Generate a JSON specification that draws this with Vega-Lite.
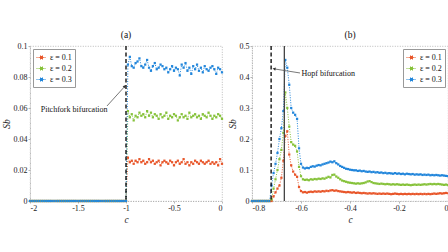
{
"$schema": "https://vega.github.io/schema/vega-lite/v6.json",
"padding": {"left": 0, "top": 29, "right": 0, "bottom": 5},
"spacing": 30,
"bounds": "flush",
"config": {
  "view": {"stroke": "#aaa", "strokeDash": [1, 1.5], "strokeWidth": 0.8},
  "font": "Liberation Serif",
  "title": {"font": "Liberation Serif", "fontSize": 9.5, "fontWeight": "normal", "offset": 3, "color": "#111"},
  "axis": {"grid": false, "labelOverlap": false, "labelFont": "Liberation Serif", "labelFontSize": 8, "labelColor": "#222", "domainColor": "#aaa", "domainDash": [1, 1.5], "domainWidth": 0.8, "tickColor": "#999", "tickSize": 2, "tickWidth": 0.7, "labelPadding": 1, "titlePadding": 2, "titleFont": "Liberation Serif", "titleFontSize": 9.5, "titleFontStyle": "italic", "titleFontWeight": "normal", "titleColor": "#222"},
  "axisY": {"labelOverlap": false},
  "axisQuantitative": {"labelOverlap": false},
  "legend": {"title": null, "labelFont": "Liberation Serif", "labelFontSize": 8, "labelColor": "#111", "fillColor": "white", "strokeColor": "#999", "padding": 3, "rowPadding": 1, "offset": 3, "symbolType": "M-1,0H1M-0.3,-0.3H0.3V0.3H-0.3Z", "symbolSize": 100, "symbolStrokeWidth": 1, "symbolDash": [1, 1], "labelOffset": 3}
},
"datasets": {
"A": [
{"c":-2,"r":0,"g":0,"b":0},{"c":-1.98,"r":0,"g":0,"b":0},{"c":-1.96,"r":0,"g":0,"b":0},{"c":-1.94,"r":0,"g":0,"b":0},{"c":-1.92,"r":0,"g":0,"b":0},{"c":-1.9,"r":0,"g":0,"b":0},{"c":-1.88,"r":0,"g":0,"b":0},{"c":-1.86,"r":0,"g":0,"b":0},{"c":-1.84,"r":0,"g":0,"b":0},{"c":-1.82,"r":0,"g":0,"b":0},
{"c":-1.8,"r":0,"g":0,"b":0},{"c":-1.78,"r":0,"g":0,"b":0},{"c":-1.76,"r":0,"g":0,"b":0},{"c":-1.74,"r":0,"g":0,"b":0},{"c":-1.72,"r":0,"g":0,"b":0},{"c":-1.7,"r":0,"g":0,"b":0},{"c":-1.68,"r":0,"g":0,"b":0},{"c":-1.66,"r":0,"g":0,"b":0},{"c":-1.64,"r":0,"g":0,"b":0},{"c":-1.62,"r":0,"g":0,"b":0},
{"c":-1.6,"r":0,"g":0,"b":0},{"c":-1.58,"r":0,"g":0,"b":0},{"c":-1.56,"r":0,"g":0,"b":0},{"c":-1.54,"r":0,"g":0,"b":0},{"c":-1.52,"r":0,"g":0,"b":0},{"c":-1.5,"r":0,"g":0,"b":0},{"c":-1.48,"r":0,"g":0,"b":0},{"c":-1.46,"r":0,"g":0,"b":0},{"c":-1.44,"r":0,"g":0,"b":0},{"c":-1.42,"r":0,"g":0,"b":0},
{"c":-1.4,"r":0,"g":0,"b":0},{"c":-1.38,"r":0,"g":0,"b":0},{"c":-1.36,"r":0,"g":0,"b":0},{"c":-1.34,"r":0,"g":0,"b":0},{"c":-1.32,"r":0,"g":0,"b":0},{"c":-1.3,"r":0,"g":0,"b":0},{"c":-1.28,"r":0,"g":0,"b":0},{"c":-1.26,"r":0,"g":0,"b":0},{"c":-1.24,"r":0,"g":0,"b":0},{"c":-1.22,"r":0,"g":0,"b":0},
{"c":-1.2,"r":0,"g":0,"b":0},{"c":-1.18,"r":0,"g":0,"b":0},{"c":-1.16,"r":0,"g":0,"b":0},{"c":-1.14,"r":0,"g":0,"b":0},{"c":-1.12,"r":0,"g":0,"b":0},{"c":-1.1,"r":0,"g":0,"b":0},{"c":-1.08,"r":0,"g":0,"b":0},{"c":-1.06,"r":0,"g":0,"b":0},{"c":-1.04,"r":0,"g":0,"b":0},{"c":-1.02,"r":0,"g":0,"b":0},
{"c":-1,"r":0,"g":0,"b":0},
{"c":-0.98,"r":0.028,"g":0.058,"b":0.088},{"c":-0.96,"r":0.025,"g":0.054,"b":0.093},{"c":-0.94,"r":0.026,"g":0.056,"b":0.087},{"c":-0.92,"r":0.024,"g":0.052,"b":0.086},{"c":-0.9,"r":0.026,"g":0.055,"b":0.089},
{"c":-0.88,"r":0.025,"g":0.054,"b":0.090},{"c":-0.86,"r":0.027,"g":0.057,"b":0.092},{"c":-0.84,"r":0.025,"g":0.055,"b":0.087},{"c":-0.82,"r":0.026,"g":0.056,"b":0.086},{"c":-0.8,"r":0.024,"g":0.054,"b":0.088},
{"c":-0.78,"r":0.025,"g":0.058,"b":0.091},{"c":-0.76,"r":0.027,"g":0.055,"b":0.086},{"c":-0.74,"r":0.025,"g":0.057,"b":0.084},{"c":-0.72,"r":0.026,"g":0.054,"b":0.087},{"c":-0.7,"r":0.024,"g":0.056,"b":0.089},
{"c":-0.68,"r":0.025,"g":0.055,"b":0.085},{"c":-0.66,"r":0.026,"g":0.053,"b":0.086},{"c":-0.64,"r":0.023,"g":0.056,"b":0.088},{"c":-0.62,"r":0.025,"g":0.054,"b":0.087},{"c":-0.6,"r":0.026,"g":0.055,"b":0.085},
{"c":-0.58,"r":0.025,"g":0.057,"b":0.086},{"c":-0.56,"r":0.024,"g":0.053,"b":0.083},{"c":-0.54,"r":0.026,"g":0.055,"b":0.085},{"c":-0.52,"r":0.025,"g":0.054,"b":0.087},{"c":-0.5,"r":0.023,"g":0.056,"b":0.084},
{"c":-0.48,"r":0.025,"g":0.055,"b":0.086},{"c":-0.46,"r":0.026,"g":0.052,"b":0.085},{"c":-0.44,"r":0.024,"g":0.054,"b":0.081},{"c":-0.42,"r":0.025,"g":0.056,"b":0.088},{"c":-0.4,"r":0.027,"g":0.054,"b":0.086},
{"c":-0.38,"r":0.024,"g":0.055,"b":0.089},{"c":-0.36,"r":0.025,"g":0.053,"b":0.084},{"c":-0.34,"r":0.023,"g":0.057,"b":0.086},{"c":-0.32,"r":0.025,"g":0.054,"b":0.082},{"c":-0.3,"r":0.024,"g":0.055,"b":0.087},
{"c":-0.28,"r":0.026,"g":0.056,"b":0.085},{"c":-0.26,"r":0.025,"g":0.054,"b":0.088},{"c":-0.24,"r":0.024,"g":0.055,"b":0.084},{"c":-0.22,"r":0.026,"g":0.053,"b":0.086},{"c":-0.2,"r":0.025,"g":0.056,"b":0.083},
{"c":-0.18,"r":0.024,"g":0.055,"b":0.087},{"c":-0.16,"r":0.025,"g":0.054,"b":0.085},{"c":-0.14,"r":0.026,"g":0.057,"b":0.084},{"c":-0.12,"r":0.024,"g":0.055,"b":0.086},{"c":-0.1,"r":0.025,"g":0.053,"b":0.087},
{"c":-0.08,"r":0.024,"g":0.055,"b":0.085},{"c":-0.06,"r":0.025,"g":0.054,"b":0.082},{"c":-0.04,"r":0.023,"g":0.056,"b":0.086},{"c":-0.02,"r":0.027,"g":0.055,"b":0.085},{"c":0,"r":0.024,"g":0.053,"b":0.083}
],
"B": [
{"c":-0.8,"r":0,"g":0,"b":0},{"c":-0.792,"r":0,"g":0,"b":0},{"c":-0.784,"r":0,"g":0,"b":0},{"c":-0.776,"r":0,"g":0,"b":0},{"c":-0.768,"r":0,"g":0,"b":0},{"c":-0.76,"r":0,"g":0,"b":0},{"c":-0.752,"r":0,"g":0,"b":0},{"c":-0.744,"r":0,"g":0,"b":0},{"c":-0.736,"r":0,"g":0,"b":0},{"c":-0.728,"r":0,"g":0,"b":0},
{"c":-0.72,"r":0,"g":0.005,"b":0.05},{"c":-0.712,"r":0.015,"g":0.04,"b":0.09},{"c":-0.704,"r":0.028,"g":0.07,"b":0.12},{"c":-0.696,"r":0.04,"g":0.10,"b":0.155},{"c":-0.688,"r":0.05,"g":0.135,"b":0.20},
{"c":-0.68,"r":0.075,"g":0.165,"b":0.235},{"c":-0.672,"r":0.13,"g":0.22,"b":0.29},{"c":-0.664,"r":0.21,"g":0.35,"b":0.455},{"c":-0.656,"r":0.225,"g":0.30,"b":0.43},{"c":-0.648,"r":0.15,"g":0.24,"b":0.375},
{"c":-0.64,"r":0.115,"g":0.19,"b":0.30},{"c":-0.632,"r":0.095,"g":0.182,"b":0.285},{"c":-0.624,"r":0.085,"g":0.178,"b":0.278},{"c":-0.616,"r":0.078,"g":0.16,"b":0.265},{"c":-0.608,"r":0.045,"g":0.11,"b":0.17},
{"c":-0.6,"r":0.032,"g":0.08,"b":0.12},{"c":-0.592,"r":0.028,"g":0.07,"b":0.108},{"c":-0.584,"r":0.029,"g":0.068,"b":0.105},{"c":-0.576,"r":0.027,"g":0.069,"b":0.107},{"c":-0.568,"r":0.029,"g":0.067,"b":0.106},
{"c":-0.56,"r":0.030,"g":0.070,"b":0.110},{"c":-0.552,"r":0.029,"g":0.069,"b":0.112},{"c":-0.544,"r":0.031,"g":0.071,"b":0.111},{"c":-0.536,"r":0.030,"g":0.070,"b":0.114},{"c":-0.528,"r":0.031,"g":0.072,"b":0.116},
{"c":-0.52,"r":0.030,"g":0.071,"b":0.115},{"c":-0.512,"r":0.032,"g":0.073,"b":0.118},{"c":-0.504,"r":0.031,"g":0.072,"b":0.120},{"c":-0.496,"r":0.033,"g":0.075,"b":0.122},{"c":-0.488,"r":0.032,"g":0.078,"b":0.124},
{"c":-0.48,"r":0.034,"g":0.076,"b":0.127},{"c":-0.472,"r":0.035,"g":0.084,"b":0.125},{"c":-0.464,"r":0.033,"g":0.085,"b":0.128},{"c":-0.456,"r":0.034,"g":0.079,"b":0.122},{"c":-0.448,"r":0.032,"g":0.075,"b":0.118},
{"c":-0.44,"r":0.031,"g":0.070,"b":0.113},{"c":-0.432,"r":0.030,"g":0.066,"b":0.110},{"c":-0.424,"r":0.029,"g":0.064,"b":0.107},{"c":-0.416,"r":0.028,"g":0.062,"b":0.104},{"c":-0.408,"r":0.029,"g":0.060,"b":0.103},
{"c":-0.4,"r":0.028,"g":0.059,"b":0.101},{"c":-0.392,"r":0.027,"g":0.058,"b":0.100},{"c":-0.384,"r":0.028,"g":0.057,"b":0.099},{"c":-0.376,"r":0.026,"g":0.056,"b":0.099},{"c":-0.368,"r":0.027,"g":0.057,"b":0.097},
{"c":-0.36,"r":0.026,"g":0.056,"b":0.098},{"c":-0.352,"r":0.025,"g":0.057,"b":0.096},{"c":-0.344,"r":0.026,"g":0.058,"b":0.097},{"c":-0.336,"r":0.025,"g":0.060,"b":0.095},{"c":-0.328,"r":0.024,"g":0.063,"b":0.094},
{"c":-0.32,"r":0.025,"g":0.064,"b":0.095},{"c":-0.312,"r":0.024,"g":0.061,"b":0.093},{"c":-0.304,"r":0.025,"g":0.058,"b":0.094},{"c":-0.296,"r":0.024,"g":0.057,"b":0.092},{"c":-0.288,"r":0.023,"g":0.056,"b":0.093},
{"c":-0.28,"r":0.024,"g":0.055,"b":0.091},{"c":-0.272,"r":0.023,"g":0.056,"b":0.092},{"c":-0.264,"r":0.024,"g":0.055,"b":0.090},{"c":-0.256,"r":0.023,"g":0.054,"b":0.091},{"c":-0.248,"r":0.024,"g":0.055,"b":0.089},
{"c":-0.24,"r":0.023,"g":0.054,"b":0.090},{"c":-0.232,"r":0.022,"g":0.053,"b":0.089},{"c":-0.224,"r":0.023,"g":0.054,"b":0.088},{"c":-0.216,"r":0.024,"g":0.053,"b":0.090},{"c":-0.208,"r":0.023,"g":0.054,"b":0.088},
{"c":-0.2,"r":0.022,"g":0.053,"b":0.089},{"c":-0.192,"r":0.023,"g":0.052,"b":0.087},{"c":-0.184,"r":0.022,"g":0.053,"b":0.088},{"c":-0.176,"r":0.023,"g":0.052,"b":0.086},{"c":-0.168,"r":0.022,"g":0.053,"b":0.088},
{"c":-0.16,"r":0.023,"g":0.052,"b":0.087},{"c":-0.152,"r":0.022,"g":0.051,"b":0.086},{"c":-0.144,"r":0.023,"g":0.052,"b":0.087},{"c":-0.136,"r":0.022,"g":0.053,"b":0.085},{"c":-0.128,"r":0.023,"g":0.052,"b":0.086},
{"c":-0.12,"r":0.022,"g":0.053,"b":0.085},{"c":-0.112,"r":0.023,"g":0.052,"b":0.086},{"c":-0.104,"r":0.022,"g":0.053,"b":0.084},{"c":-0.096,"r":0.023,"g":0.054,"b":0.085},{"c":-0.088,"r":0.022,"g":0.053,"b":0.084},
{"c":-0.08,"r":0.023,"g":0.054,"b":0.085},{"c":-0.072,"r":0.022,"g":0.055,"b":0.083},{"c":-0.064,"r":0.023,"g":0.054,"b":0.084},{"c":-0.056,"r":0.024,"g":0.055,"b":0.083},{"c":-0.048,"r":0.023,"g":0.054,"b":0.084},
{"c":-0.04,"r":0.024,"g":0.055,"b":0.083},{"c":-0.032,"r":0.025,"g":0.054,"b":0.082},{"c":-0.024,"r":0.024,"g":0.053,"b":0.083},{"c":-0.016,"r":0.025,"g":0.052,"b":0.082},{"c":-0.008,"r":0.026,"g":0.053,"b":0.081},
{"c":0,"r":0.025,"g":0.051,"b":0.080}
]
},
"hconcat": [
{
  "width": 192, "height": 155,
  "title": "(a)",
  "layer": [
    {
      "data": {"name": "A"},
      "transform": [{"fold": ["r", "g", "b"], "as": ["k", "v"]}],
      "mark": {"type": "line", "strokeDash": [1, 1.5], "strokeWidth": 1, "point": {"filled": true, "shape": "square", "size": 5}},
      "encoding": {
        "x": {"field": "c", "type": "quantitative", "title": "c", "scale": {"domain": [-2, 0], "nice": false}, "axis": {"values": [-2, -1.5, -1, -0.5, 0], "labelOverlap": false, "labelExpr": "replace(format(datum.value, '~g'), '\u2212', '-')"}},
        "y": {"field": "v", "type": "quantitative", "title": "Sb", "scale": {"domain": [0, 0.1], "nice": false}, "axis": {"values": [0, 0.02, 0.04, 0.06, 0.08, 0.1], "tickCount": 6, "labelOverlap": false, "labelFlush": false, "labelExpr": "format(datum.value, '~g')"}},
        "color": {"field": "k", "type": "nominal", "scale": {"domain": ["r", "g", "b"], "range": ["#E8562A", "#86C23A", "#2286DB"]},
          "legend": {"orient": "top-left", "labelExpr": "datum.label == 'r' ? '\u03b5 = 0.1' : datum.label == 'g' ? '\u03b5 = 0.2' : '\u03b5 = 0.3'", "encode": {"symbols": {"update": {"fill": {"scale": "color", "field": "value"}}}}}}
      }
    },
    {
      "data": {"values": [{"c": -1}]},
      "mark": {"type": "rule", "color": "black", "strokeDash": [4, 2.5], "strokeWidth": 1.3},
      "encoding": {"x": {"field": "c", "type": "quantitative", "title": "c"}}
    },
    {
      "data": {"values": [{"c": -1.54, "v": 0.0587, "t": "Pitchfork bifurcation"}]},
      "mark": {"type": "text", "font": "Liberation Serif", "fontSize": 8, "color": "#111"},
      "encoding": {"x": {"field": "c", "type": "quantitative", "title": "c"}, "y": {"field": "v", "type": "quantitative", "title": "Sb"}, "text": {"field": "t"}}
    },
    {
      "data": {"values": [{"c": -1.198, "v": 0.0613, "c2": -1.015, "v2": 0.0738}]},
      "mark": {"type": "rule", "color": "#555", "strokeWidth": 0.8},
      "encoding": {"x": {"field": "c", "type": "quantitative", "title": "c"}, "y": {"field": "v", "type": "quantitative", "title": "Sb"}, "x2": {"field": "c2"}, "y2": {"field": "v2"}}
    },
    {
      "data": {"values": [{"c": -1.015, "v": 0.0738}]},
      "mark": {"type": "point", "shape": "triangle", "filled": true, "color": "#333", "size": 12, "angle": 42, "opacity": 1},
      "encoding": {"x": {"field": "c", "type": "quantitative", "title": "c"}, "y": {"field": "v", "type": "quantitative", "title": "Sb"}}
    }
  ]
},
{
  "width": 196, "height": 155,
  "title": "(b)",
  "layer": [
    {
      "data": {"name": "B"},
      "transform": [{"fold": ["r", "g", "b"], "as": ["k", "v"]}],
      "mark": {"type": "line", "strokeDash": [1, 1.5], "strokeWidth": 1, "point": {"filled": true, "shape": "square", "size": 5}},
      "encoding": {
        "x": {"field": "c", "type": "quantitative", "title": "c", "scale": {"domain": [-0.8, 0], "nice": false}, "axis": {"values": [-0.8, -0.6, -0.4, -0.2, 0], "labelOverlap": false, "labelExpr": "replace(format(datum.value, '~g'), '\u2212', '-')"}},
        "y": {"field": "v", "type": "quantitative", "title": "Sb", "scale": {"domain": [0, 0.5], "nice": false}, "axis": {"values": [0, 0.1, 0.2, 0.3, 0.4, 0.5], "tickCount": 6, "labelOverlap": false, "labelFlush": false, "labelExpr": "format(datum.value, '~g')"}},
        "color": {"field": "k", "type": "nominal", "scale": {"domain": ["r", "g", "b"], "range": ["#E8562A", "#86C23A", "#2286DB"]},
          "legend": {"orient": "top-right", "labelExpr": "datum.label == 'r' ? '\u03b5 = 0.1' : datum.label == 'g' ? '\u03b5 = 0.2' : '\u03b5 = 0.3'", "encode": {"symbols": {"update": {"fill": {"scale": "color", "field": "value"}}}}}}
      }
    },
    {
      "data": {"values": [{"c": -0.722}]},
      "mark": {"type": "rule", "color": "black", "strokeDash": [4, 2.5], "strokeWidth": 1.3},
      "encoding": {"x": {"field": "c", "type": "quantitative", "title": "c"}}
    },
    {
      "data": {"values": [{"c": -0.668}]},
      "mark": {"type": "rule", "color": "#444", "strokeWidth": 1.3},
      "encoding": {"x": {"field": "c", "type": "quantitative", "title": "c"}}
    },
    {
      "data": {"values": [{"c": -0.598, "v": 0.41, "t": "Hopf bifurcation"}]},
      "mark": {"type": "text", "font": "Liberation Serif", "fontSize": 8, "color": "#111", "align": "left"},
      "encoding": {"x": {"field": "c", "type": "quantitative", "title": "c"}, "y": {"field": "v", "type": "quantitative", "title": "Sb"}, "text": {"field": "t"}}
    },
    {
      "data": {"values": [{"c": -0.604, "v": 0.413, "c2": -0.708, "v2": 0.426}]},
      "mark": {"type": "rule", "color": "#555", "strokeWidth": 0.8},
      "encoding": {"x": {"field": "c", "type": "quantitative", "title": "c"}, "y": {"field": "v", "type": "quantitative", "title": "Sb"}, "x2": {"field": "c2"}, "y2": {"field": "v2"}}
    },
    {
      "data": {"values": [{"c": -0.708, "v": 0.426}]},
      "mark": {"type": "point", "shape": "triangle", "filled": true, "color": "#333", "size": 12, "angle": 280, "opacity": 1},
      "encoding": {"x": {"field": "c", "type": "quantitative", "title": "c"}, "y": {"field": "v", "type": "quantitative", "title": "Sb"}}
    }
  ]
}
]
}
